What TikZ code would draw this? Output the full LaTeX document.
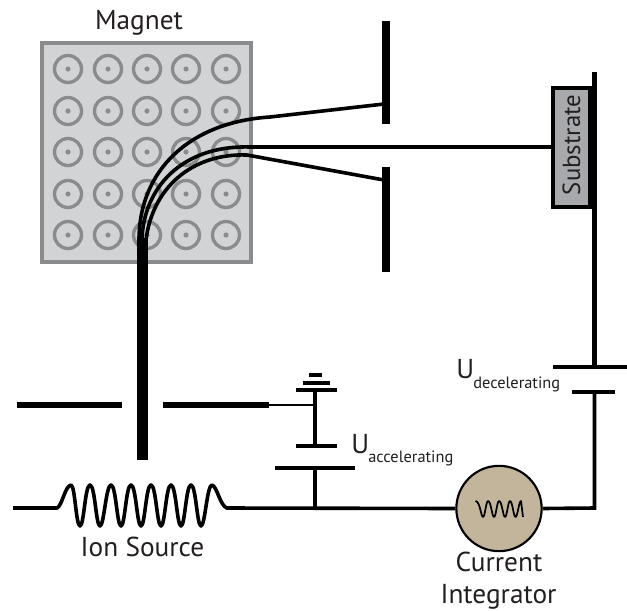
\documentclass[tikz,border=0pt]{standalone}
\usepackage{fontspec}
\setmainfont{PT Sans}
\definecolor{magfill}{HTML}{D1D3D4}
\definecolor{magline}{HTML}{8A8B8D}
\definecolor{subfill}{HTML}{A7A9AC}
\definecolor{intfill}{HTML}{C2B59B}
\definecolor{txt}{HTML}{231F20}
\tikzset{
  wire/.style={line width=2.7pt,black},
  plate/.style={line width=2.7pt,black},
  slit/.style={line width=5.6pt,black},
  beamline/.style={line width=2.7pt,black},
  ring/.style={draw=magline,line width=2.5pt,fill=none},
  lbl/.style={inner sep=0pt,text=txt,anchor=base,font=\fontsize{20.5}{22}\selectfont},
}
\newcommand{\volt}[2]{U\hspace{-0.6pt}\raisebox{-#1}{\fontsize{12.3}{14}\selectfont #2}}
\begin{document}
\begin{tikzpicture}[x=0.75pt,y=-0.75pt]
\useasboundingbox (0,0) rectangle (627,610);
\fill[white] (0,0) rectangle (627,610);
% magnet
\node[draw=magline,fill=magfill,line width=3pt,minimum width=157pt,minimum height=164pt,inner sep=0pt] (magnet) at (146.5,152.5) {};
\foreach \x in {68,108,147,186,226}
  \foreach \y in {69,111,152,194,235}{
    \draw[ring] (\x,\y) circle (13.5);
    \fill[magline] (\x,\y) circle (2.6);
  }
\node[lbl] (magnetlabel) at (139,30) {Magnet};
% beam
\coordinate (beambottom) at (142.5,460);
\coordinate (beamtop) at (142.5,238);
\draw[line width=8.3pt,black] (beambottom) -- (beamtop);
\draw[beamline] (139,240) .. controls (139,170) and (190,122) .. (270,117) -- (384,104);
\draw[beamline] (142,240) .. controls (143,190) and (180,145) .. (250,147);
\draw[beamline] (146,240) .. controls (152,190) and (190,153) .. (247,155) -- (384,180);
% slits
\draw[slit] (386,21) -- (386,124);
\draw[slit] (386,167) -- (386,272);
% substrate
\node[draw=black,fill=subfill,line width=2.8pt,minimum width=28pt,minimum height=89pt,inner sep=0pt] (substrate) at (571.5,147.5) {};
\node[lbl,rotate=90,font=\fontsize{18.6}{20}\selectfont] (sublabel) at (580,145) {Substrate};
\draw[beamline] (250,147) -- (substrate.west |- 0,147);
% right rail
\coordinate (railtop) at (594.5,72);
\coordinate (railplate) at (594.5,367);
\draw[line width=3.4pt,black] (railtop) -- (railplate);
\draw[plate] (553,367) -- (627,367);
\draw[plate] (572,392) -- (615,392);
\node[lbl,anchor=base west] (udec) at (456,378) {\volt{8.2pt}{decelerating}};
% aperture
\draw[slit,line width=4.6pt] (17,405) -- (122,405);
\draw[slit,line width=4.6pt] (163,405) -- (269,405);
\draw[line width=1.1pt,black] (269,405) -- (315,405);
% accelerating supply
\draw[line width=2.8pt,black] (315,390) -- (315,446);
\draw[plate] (296,390) -- (337,390);
\draw[plate] (303,383) -- (330,383);
\draw[plate] (309,375) -- (322,375);
\draw[plate] (296,446) -- (337,446);
\draw[plate] (275,468) -- (355,468);
\draw[wire] (315,468) -- (315,508);
\node[lbl,anchor=base west] (uacc) at (351,453) {\volt{6.8pt}{accelerating}};
% current integrator
\node[circle,draw=black,fill=intfill,line width=1.6pt,minimum size=64pt,inner sep=0pt] (integrator) at (499,508.5) {};
\draw[line width=1.3pt,black,line join=round] (475.5,501)
  \foreach \p/\q in {483/488,494/499,505/510,515.5/521}{
    .. controls ({\p-3},501) and ({\p-2},517) .. (\p,517)
    .. controls ({\p+2},517) and ({\q-2},501) .. (\q,501)
  } -- (523,517);
\draw[wire] (226,508) -- (integrator.west);
\draw[wire,line join=miter] (integrator.east) -- (594.5,508) -- (594.5,392);
\node[lbl] (curlabel) at (499,571) {Current};
\node[lbl] (intlabel) at (498.5,603) {Integrator};
% coil
\draw[wire,line join=round] (13,508) -- (57,508) .. controls (62,506) and (65,486) .. (71,485)
  \foreach \p/\q in {80/90,100/111,121/131,141/151,161/171,181/191,201/212}{
    .. controls ({\p-5},485) and ({\p-4},526) .. (\p,526)
    .. controls ({\p+4},526) and ({\q-5},485) .. (\q,485)
  }
  .. controls (217,486) and (220,506) .. (227,508);
\node[lbl] (ionlabel) at (142.5,556) {Ion Source};
\end{tikzpicture}
\end{document}
